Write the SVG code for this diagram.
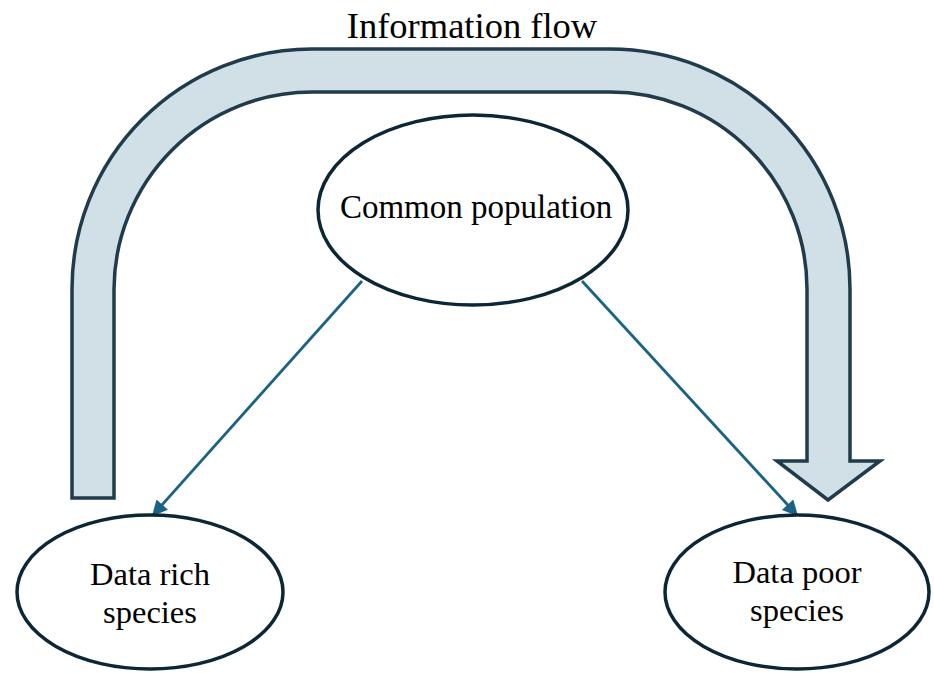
<svg xmlns="http://www.w3.org/2000/svg" width="934" height="673" viewBox="0 0 934 673">
  <style>
    .node { fill: #ffffff; stroke: #0c2636; stroke-width: 3.5; }
    .lbl { font-family: "Liberation Serif", "Times New Roman", serif; fill: #000000; text-anchor: middle; }
    .conn { stroke: #1b6385; stroke-width: 2.8; fill: none; }
    .flow { fill: #d1dfe6; stroke: #203c4c; stroke-width: 3.5; stroke-linejoin: miter; }
  </style>
  <defs>
    <marker id="ah" viewBox="0 0 10 10" refX="9" refY="5" markerWidth="6" markerHeight="5.5" orient="auto" markerUnits="strokeWidth">
      <path d="M0,0 L10,5 L0,10 z" fill="#1b6385"/>
    </marker>
  </defs>
  <rect width="934" height="673" fill="#ffffff"/>

  <g id="information-flow">
    <path class="flow" d="M72,498 L72,289 A240,240 0 0 1 312,49 L610,49 A240,240 0 0 1 850,289 L850,461 L880,461 L828,500 L777,461 L807,461 L807,289 A197,197 0 0 0 610,92 L312,92 A198,198 0 0 0 114,289 L114,498 Z"/>
    <text class="lbl" x="472" y="38" font-size="36.5">Information flow</text>
  </g>

  <g id="connectors">
    <line class="conn" x1="362" y1="281" x2="153" y2="515" marker-end="url(#ah)"/>
    <line class="conn" x1="582" y1="281" x2="797" y2="515" marker-end="url(#ah)"/>
  </g>

  <g id="common-population">
    <ellipse class="node" cx="473" cy="210" rx="155" ry="95"/>
    <text class="lbl" x="476" y="218" font-size="33">Common population</text>
  </g>

  <g id="data-rich">
    <ellipse class="node" cx="150" cy="592" rx="133" ry="77"/>
    <text class="lbl" x="150" y="585" font-size="32.5">Data rich</text>
    <text class="lbl" x="150" y="623" font-size="32.5">species</text>
  </g>

  <g id="data-poor">
    <ellipse class="node" cx="797" cy="592" rx="132" ry="77"/>
    <text class="lbl" x="797" y="583" font-size="32.5">Data poor</text>
    <text class="lbl" x="797" y="621" font-size="32.5">species</text>
  </g>
</svg>
